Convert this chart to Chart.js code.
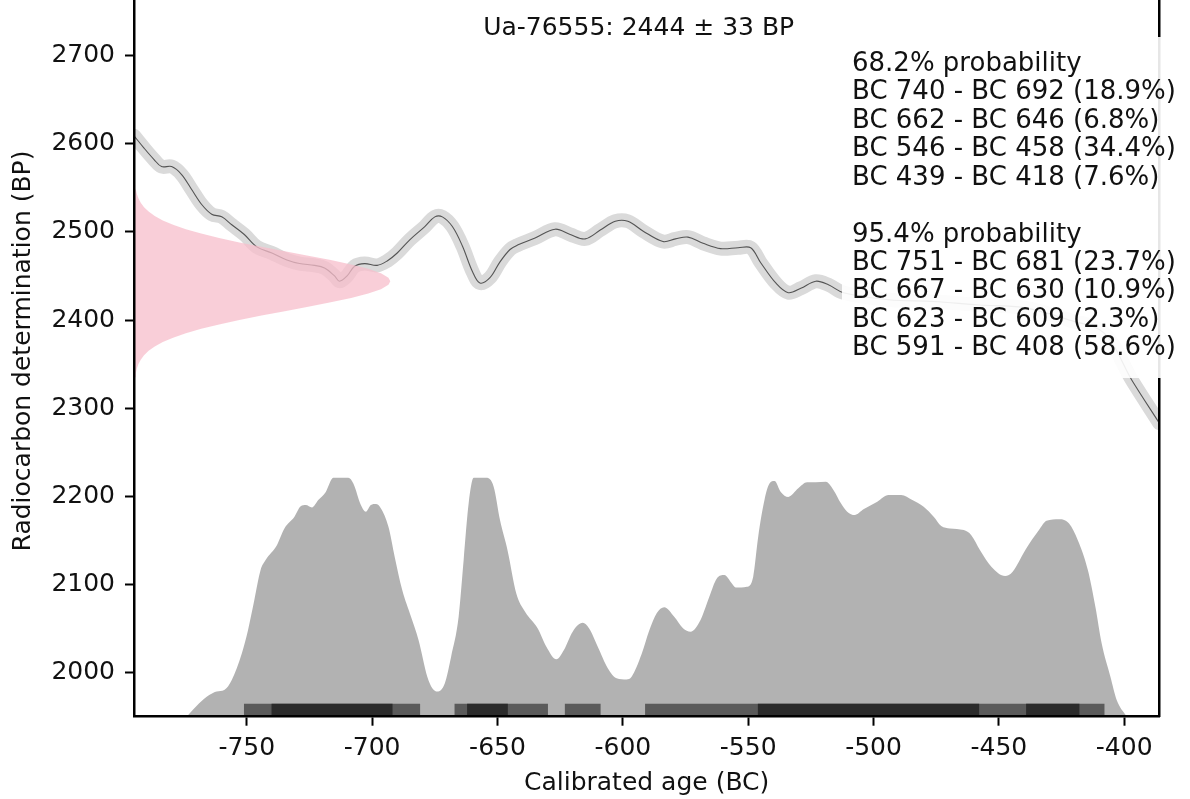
<!DOCTYPE html>
<html>
<head>
<meta charset="utf-8">
<title>Ua-76555 calibration</title>
<script src="https://cdn.jsdelivr.net/npm/chart.js@4.4.1/dist/chart.umd.min.js"></script>
<style>
  html, body { margin: 0; padding: 0; background: #ffffff; }
  #wrap { width: 1190px; height: 799px; position: relative; }
</style>
</head>
<body>
<div id="wrap"><canvas id="chart" width="1190" height="799"></canvas></div>
<script>
// ---- Sample ----
const sampleLabel = 'Ua-76555';
const sampleBP = 2444;
const sampleErr = 33;

// ---- Calibration curve (mean, BP) ----
const calYears = [-795,-791,-787,-784,-780,-776,-772,-768,-764,-760,-756,-751,-746,-740,-734,-729,-723,-719,-715,-713,-710,-707,-703,-698,-694,-690,-685,-679,-675,-672,-668,-664,-660,-657,-653,-649,-645,-642,-635,-627,-621,-615,-609,-603,-598,-592,-584,-579,-574,-568,-561,-554,-549,-545,-539,-534,-529,-523,-518,-512,-494,-476,-458,-440,-422,-408,-397,-386];
const calBP = [2609,2595,2582,2574,2574,2565,2548,2531,2520,2517,2508,2497,2483,2476,2468,2464,2462,2459,2450,2444,2450,2461,2464,2462,2467,2476,2491,2506,2517,2517,2506,2484,2455,2442,2448,2466,2480,2485,2493,2503,2497,2492,2502,2512,2512,2501,2489,2492,2494,2487,2481,2482,2482,2465,2442,2431,2436,2444,2440,2431,2423,2421,2417,2414,2400,2385,2332,2283];

// ---- Measured determination (relative density per BP level) ----
const measBP = [2330,2335,2340,2345,2350,2355,2360,2365,2370,2375,2380,2385,2390,2395,2400,2405,2410,2415,2420,2425,2430,2435,2440,2444,2448,2453,2458,2463,2468,2473,2478,2483,2488,2493,2498,2503,2508,2513,2518,2523,2528,2533,2538,2543,2548,2553,2558];
const measDensity = [0.0026,0.0043,0.0070,0.0111,0.0173,0.0263,0.0392,0.0570,0.0809,0.1124,0.1525,0.2023,0.2622,0.3321,0.4111,0.4974,0.5882,0.6797,0.7676,0.8472,0.9139,0.9635,0.9927,1.0,0.9927,0.9635,0.9139,0.8472,0.7676,0.6797,0.5882,0.4974,0.4111,0.3321,0.2622,0.2023,0.1525,0.1124,0.0809,0.0570,0.0392,0.0263,0.0173,0.0111,0.0070,0.0043,0.0026];

// ---- Calibrated age distribution (relative density) ----
const postYears = [-774,-769,-765,-762,-759,-756,-752,-749.5,-747,-744.5,-742.5,-738,-735,-731,-728.5,-726.5,-724,-721.5,-718.5,-715.5,-709.5,-707.5,-704.5,-702.5,-700.5,-698.5,-696.5,-693.5,-691,-688,-684.5,-681.5,-678,-676,-674,-671,-668.5,-665.5,-663.5,-661.5,-659.5,-654.5,-651.5,-649,-646,-642.5,-639,-634,-630.5,-626.5,-623.5,-620,-616,-613.5,-610,-606,-602.5,-598.5,-596.5,-592.5,-589.5,-586.5,-583.5,-579.5,-576,-573,-569,-565.5,-562.5,-559.5,-556.5,-555,-550.5,-548,-546,-543.5,-541.5,-539.5,-537,-534,-530,-526.5,-523,-519,-516,-513,-510.5,-507.5,-504,-498.5,-494,-489,-484.5,-480,-476,-473,-469.5,-464,-461,-457.5,-453,-447.5,-444.5,-439.5,-434,-431,-426,-422,-418.5,-414.5,-411.5,-409,-405.5,-403,-399];
const postDensity = [0,0.056,0.091,0.106,0.112,0.154,0.265,0.363,0.488,0.614,0.656,0.718,0.788,0.837,0.881,0.886,0.876,0.907,0.941,1.0,1.0,0.976,0.886,0.858,0.886,0.89,0.872,0.795,0.669,0.530,0.418,0.321,0.167,0.119,0.105,0.140,0.251,0.418,0.656,0.893,1.0,1.0,0.962,0.823,0.697,0.516,0.439,0.370,0.293,0.240,0.279,0.356,0.393,0.370,0.293,0.203,0.161,0.156,0.167,0.262,0.36,0.433,0.458,0.418,0.370,0.356,0.405,0.502,0.579,0.593,0.558,0.541,0.544,0.586,0.753,0.907,0.976,0.987,0.941,0.920,0.956,0.981,0.981,0.983,0.949,0.893,0.858,0.844,0.868,0.900,0.928,0.928,0.907,0.879,0.837,0.798,0.788,0.781,0.760,0.697,0.628,0.589,0.607,0.697,0.781,0.820,0.827,0.809,0.739,0.614,0.460,0.307,0.167,0.070,0];

// ---- Highest density ranges (BC years, percent) ----
const hpd68From = [740, 662, 546, 439];
const hpd68To   = [692, 646, 458, 418];
const hpd68Pct  = [18.9, 6.8, 34.4, 7.6];
const hpd95From = [751, 667, 623, 591];
const hpd95To   = [681, 630, 609, 408];
const hpd95Pct  = [23.7, 10.9, 2.3, 58.6];

// ---- Axes ----
const xTicks = [-750, -700, -650, -600, -550, -500, -450, -400];
const yTicks = [2000, 2100, 2200, 2300, 2400, 2500, 2600, 2700];
const xRange = [-795, -386];
const yRange = [1950, 2763];
const hpdLevel = 1957;   // BP level at which the range strip sits

const FONT = '"DejaVu Sans", "Liberation Sans", sans-serif';
Chart.defaults.font.family = FONT;
Chart.defaults.font.size = 25;
Chart.defaults.color = '#111111';

// assembled series
const calPoints = calYears.map((x, i) => ({ x, y: calBP[i] }));
const postPoints = postYears.map((x, i) => ({ x, y: postDensity[i] }));
const measPoints = [{ x: 0, y: measBP[0] }]
  .concat(measBP.map((b, i) => ({ x: measDensity[i], y: b })))
  .concat([{ x: 0, y: measBP[measBP.length - 1] }]);

const hpdBars = [];
const hpdColors = [];
hpd95From.forEach((f, i) => { hpdBars.push({ x: [-f, -hpd95To[i]], y: hpdLevel }); hpdColors.push('#5a5a5a'); });
hpd68From.forEach((f, i) => { hpdBars.push({ x: [-f, -hpd68To[i]], y: hpdLevel }); hpdColors.push('#2b2b2b'); });

const fmtRange = (f, t, p) => `BC ${f} - BC ${t} (${p.toFixed(1)}%)`;
const infoLines = ['68.2% probability']
  .concat(hpd68From.map((f, i) => fmtRange(f, hpd68To[i], hpd68Pct[i])))
  .concat(['', '95.4% probability'])
  .concat(hpd95From.map((f, i) => fmtRange(f, hpd95To[i], hpd95Pct[i])));

// title, y-axis label and the white range box drawn over everything
const overlay = {
  id: 'overlay',
  afterDraw(chart) {
    const { ctx, chartArea } = chart;
    ctx.save();
    ctx.fillStyle = '#111111';
    ctx.font = '25px ' + FONT;
    ctx.textAlign = 'center';
    ctx.textBaseline = 'alphabetic';
    ctx.fillText(`${sampleLabel}: ${sampleBP} \u00b1 ${sampleErr} BP`, (chartArea.left + chartArea.right) / 2 - 8, 35);

    ctx.save();
    ctx.translate(23, 351);
    ctx.rotate(-Math.PI / 2);
    ctx.textBaseline = 'middle';
    ctx.fillText('Radiocarbon determination (BP)', 0, 0);
    ctx.restore();

    ctx.fillStyle = 'rgba(255,255,255,0.9)';
    ctx.fillRect(842, 37, 342, 341);
    ctx.fillStyle = '#111111';
    ctx.font = '26px ' + FONT;
    ctx.textAlign = 'left';
    ctx.textBaseline = 'alphabetic';
    infoLines.forEach((t, i) => { if (t) ctx.fillText(t, 852, 71 + i * 28.43); });
    ctx.restore();
  }
};

const axisBorder = { display: true, color: '#000000', width: 2.5, z: 1 };
const tickGrid = { display: true, drawOnChartArea: false, drawTicks: true, tickLength: 9, tickWidth: 2, tickColor: '#000000', offset: false, z: 1 };
const noPadY = s => { s.paddingTop = 0; s.paddingBottom = 0; };
const noPadX = s => { s.paddingLeft = 0; s.paddingRight = 0; };

new Chart(document.getElementById('chart'), {
  type: 'line',
  plugins: [overlay],
  data: {
    datasets: [
      {
        label: 'measured',
        data: measPoints,
        xAxisID: 'xp', yAxisID: 'y',
        backgroundColor: 'rgba(247,190,203,0.75)',
        borderColor: 'transparent', borderWidth: 0,
        pointRadius: 0, tension: 0, fill: 'shape'
      },
      {
        label: 'curve',
        data: calPoints,
        xAxisID: 'x', yAxisID: 'y',
        borderColor: 'rgba(60,60,60,0.85)', borderWidth: 1.1,
        pointRadius: 0, tension: 0.35, fill: false
      },
      {
        label: 'curve band',
        data: calPoints,
        xAxisID: 'x', yAxisID: 'y',
        borderColor: '#dadada', borderWidth: 14,
        borderJoinStyle: 'round', borderCapStyle: 'round',
        pointRadius: 0, tension: 0.35, fill: false
      },
      {
        type: 'bar',
        label: 'ranges',
        indexAxis: 'y',
        data: hpdBars,
        xAxisID: 'x', yAxisID: 'y',
        backgroundColor: hpdColors,
        borderWidth: 0,
        barThickness: 13,
        grouped: false
      },
      {
        label: 'calibrated',
        data: postPoints,
        xAxisID: 'x', yAxisID: 'yp',
        backgroundColor: '#b2b2b2',
        borderColor: 'transparent', borderWidth: 0,
        pointRadius: 0, cubicInterpolationMode: 'monotone', fill: 'origin'
      }
    ]
  },
  options: {
    responsive: false,
    animation: false,
    devicePixelRatio: 1,
    layout: { padding: { left: 0, right: 0, top: 0, bottom: 0 } },
    plugins: { legend: { display: false }, tooltip: { enabled: false }, title: { display: false } },
    scales: {
      x: {
        type: 'linear', position: 'bottom', axis: 'x',
        min: xRange[0], max: xRange[1], offset: false, beginAtZero: false,
        afterBuildTicks: s => { s.ticks = xTicks.map(v => ({ value: v })); },
        afterFit: s => { s.height = 82.3; noPadX(s); },
        ticks: { padding: 8, color: '#111111', font: { size: 25 }, maxRotation: 0, autoSkip: false, callback: v => String(v) },
        grid: tickGrid,
        border: axisBorder,
        title: { display: true, text: 'Calibrated age (BC)', color: '#111111', font: { size: 25 }, padding: { top: 0, bottom: 1 } }
      },
      y: {
        type: 'linear', position: 'left', axis: 'y',
        min: yRange[0], max: yRange[1], offset: false, beginAtZero: false,
        afterBuildTicks: s => { s.ticks = yTicks.map(v => ({ value: v })); },
        afterFit: s => { s.width = 134; noPadY(s); },
        ticks: { padding: 10, color: '#111111', font: { size: 25 }, autoSkip: false, callback: v => String(v) },
        grid: tickGrid,
        border: axisBorder,
        title: { display: false }
      },
      yr: {
        type: 'linear', position: 'right', axis: 'y',
        min: yRange[0], max: yRange[1], offset: false,
        afterFit: s => { s.width = 30.7; noPadY(s); },
        ticks: { display: false },
        grid: { display: false, drawTicks: false },
        border: axisBorder
      },
      xp: {
        type: 'linear', axis: 'x', display: false, min: 0, max: 4, offset: false
      },
      yp: {
        type: 'linear', axis: 'y', display: false, min: 0, max: 3, offset: false
      }
    }
  }
});
</script>
</body>
</html>
